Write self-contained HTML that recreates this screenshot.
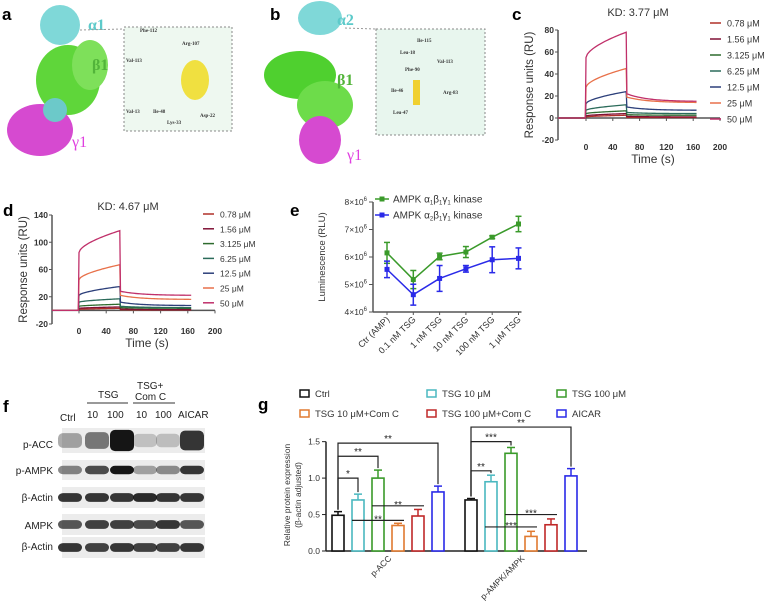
<!DOCTYPE html>
<html><head><meta charset="utf-8"><style>
body{margin:0;background:#fff;}
svg{display:block;font-family:"Liberation Sans",Arial,sans-serif;}
</style></head><body>
<svg id="fig" width="765" height="613" viewBox="0 0 765 613">
<g>
<text x="2" y="20" font-size="17" font-weight="bold">a</text>
<ellipse cx="60" cy="25" rx="20" ry="20" fill="#7fd8d8"/>
<ellipse cx="68" cy="80" rx="32" ry="35" fill="#5fd63a"/>
<ellipse cx="90" cy="65" rx="18" ry="25" fill="#7ee05a"/>
<ellipse cx="40" cy="130" rx="33" ry="26" fill="#d64ad0"/>
<ellipse cx="55" cy="110" rx="12" ry="12" fill="#6cc9c9"/>
<text x="88" y="30" font-size="16" font-weight="bold" fill="#5ccaca" font-family="Liberation Serif,serif">α1</text>
<text x="92" y="70" font-size="16" font-weight="bold" fill="#52b43a" font-family="Liberation Serif,serif">β1</text>
<text x="72" y="147" font-size="16" fill="#e040e0" font-family="Liberation Serif,serif">γ1</text>
<rect x="124" y="27" width="108" height="104" fill="#eef8f0" stroke="#888" stroke-dasharray="2,2"/>
<ellipse cx="195" cy="80" rx="14" ry="20" fill="#f0e040"/>
<g font-size="5" font-family="Liberation Serif,serif" font-weight="bold" fill="#333">
<text x="140" y="32">Phe-112</text><text x="182" y="45">Arg-107</text><text x="126" y="62">Val-113</text>
<text x="126" y="113">Val-13</text><text x="153" y="113">Ile-48</text><text x="167" y="124">Lys-33</text><text x="200" y="117">Asp-22</text></g>
<line x1="80" y1="30" x2="124" y2="29" stroke="#999" stroke-dasharray="2,2"/>
</g>
<g>
<text x="270" y="20" font-size="17" font-weight="bold">b</text>
<ellipse cx="320" cy="18" rx="22" ry="17" fill="#7fd8d8"/>
<ellipse cx="300" cy="75" rx="36" ry="24" fill="#4fd02f"/>
<ellipse cx="325" cy="105" rx="28" ry="24" fill="#6ddc4a"/>
<ellipse cx="320" cy="140" rx="21" ry="24" fill="#d64ad0"/>
<text x="337" y="25" font-size="16" font-weight="bold" fill="#5ccaca" font-family="Liberation Serif,serif">α2</text>
<text x="337" y="85" font-size="16" font-weight="bold" fill="#52b43a" font-family="Liberation Serif,serif">β1</text>
<text x="347" y="160" font-size="16" fill="#e040e0" font-family="Liberation Serif,serif">γ1</text>
<rect x="376" y="29" width="109" height="106" fill="#e8f6ee" stroke="#888" stroke-dasharray="2,2"/>
<rect x="413" y="80" width="7" height="25" fill="#f0d030"/>
<g font-size="5" font-family="Liberation Serif,serif" font-weight="bold" fill="#333">
<text x="417" y="42">Ile-115</text><text x="400" y="54">Leu-18</text><text x="437" y="63">Val-113</text>
<text x="405" y="71">Phe-90</text><text x="391" y="92">Ile-46</text><text x="443" y="94">Arg-83</text><text x="393" y="114">Leu-47</text></g>
<line x1="345" y1="28" x2="376" y2="29" stroke="#999" stroke-dasharray="2,2"/>
</g>
<g id="pc"><text x="512" y="20" font-size="17" font-weight="bold">c</text></g>
<g id="pd"><text x="3" y="216" font-size="17" font-weight="bold">d</text></g>
<g id="pe"><text x="290" y="216" font-size="17" font-weight="bold">e</text></g>
<g>
<text x="3" y="412" font-size="17" font-weight="bold">f</text>
<g font-size="10" fill="#222">
<text x="98" y="398">TSG</text><line x1="87" y1="403" x2="128" y2="403" stroke="#333"/>
<text x="137" y="389">TSG+</text><text x="135" y="400">Com C</text><line x1="133" y1="403" x2="175" y2="403" stroke="#333"/>
<text x="60" y="421">Ctrl</text><text x="87" y="418">10</text><text x="107" y="418">100</text>
<text x="136" y="418">10</text><text x="155" y="418">100</text><text x="178" y="418">AICAR</text>
<text x="53" y="448" text-anchor="end">p-ACC</text><text x="53" y="474" text-anchor="end">p-AMPK</text>
<text x="53" y="501" text-anchor="end">β-Actin</text><text x="53" y="529" text-anchor="end">AMPK</text>
<text x="53" y="550" text-anchor="end">β-Actin</text></g>
<g id="blot"></g>
</g>
<g id="pg"><text x="258" y="410" font-size="17" font-weight="bold">g</text></g>
</svg>
<script>
const NS="http://www.w3.org/2000/svg";
function mk(parent,tag,attrs,txt){const e=document.createElementNS(NS,tag);for(const k in attrs)e.setAttribute(k,attrs[k]);if(txt!==undefined)e.textContent=txt;parent.appendChild(e);return e;}

const concLabels=["0.78 μM","1.56 μM","3.125 μM","6.25 μM","12.5 μM","25 μM","50 μM"];
const concColors=["#b03028","#801035","#2e6b2e","#2b6b5a","#2c3f7a","#e8714a","#c0306a"];
const cJump=[1,2,4,7,13,28,55];
const cPeak=[2.5,4,6.5,12,24,45,78];
const cDrop=[0.5,1.5,3,5,10,19,22];
const cEnd=[0.5,1,2.5,4,7,14,15];
const dJump=[1.5,3,6,12,22,45,85];
const dPeak=[3,5,9,17,35,67,117];
const dDrop=[1,2,4,6,12,22,28];
const dEnd=[0.5,1,3,4,7,16,22];
const cYTicks=[-20,0,20,40,60,80];
const dYTicks=[-20,20,60,100,140];
const xTicks=[0,40,80,120,160,200];

function spr(g,o){
  const X=t=>o.x0+(t-0)*(o.x200-o.x0)/200;
  const Y=v=>o.yb+(v-o.vmin)*(o.yt-o.yb)/(o.vmax-o.vmin);
  mk(g,"line",{x1:o.ax,y1:Y(o.vmin),x2:o.ax,y2:Y(o.vmax),stroke:"#555","stroke-width":1.5});
  mk(g,"line",{x1:o.ax,y1:Y(0),x2:X(200),y2:Y(0),stroke:"#555","stroke-width":1.5});
  o.yt_.forEach(v=>{mk(g,"line",{x1:o.ax-3,y1:Y(v),x2:o.ax,y2:Y(v),stroke:"#555"});
    const t=mk(g,"text",{x:o.ax-4,y:Y(v)+3,"font-size":o.fs,"text-anchor":"end","font-weight":"bold",fill:"#333"},v);
    });
  xTicks.forEach(v=>{mk(g,"line",{x1:X(v),y1:Y(0),x2:X(v),y2:Y(0)+3,stroke:"#555"});
    const t=mk(g,"text",{x:X(v),y:Y(o.vmin)+10,"font-size":o.fs,"text-anchor":"middle","font-weight":"bold",fill:"#333"},v);
    });
  const xt=mk(g,"text",{x:X(100),y:Y(o.vmin)+23,"font-size":12,"text-anchor":"middle",fill:"#333"},"Time (s)");
  
  const cy=(Y(o.vmin)+Y(o.vmax))/2, cx=o.ax-25;
  const yt=mk(g,"text",{x:cx,y:cy,"font-size":11.5,"text-anchor":"middle",fill:"#333",transform:`rotate(-90 ${cx} ${cy})`},"Response units (RU)");
  
  const tt=mk(g,"text",{x:o.titleX,y:o.titleY,"font-size":11,"text-anchor":"middle",fill:"#333"},o.title);
  
  for(let i=0;i<7;i++){
    let d=`M${o.ax},${Y(0)} L${X(-1)},${Y(0)}`;
    for(let t=0;t<=60;t+=2){const v=o.J[i]+(o.P[i]-o.J[i])*Math.pow(t/60,0.6);d+=` L${X(t)},${Y(v)}`;}
    for(let t=61;t<=165;t+=2){const v=o.E[i]+(o.D[i]-o.E[i])*Math.exp(-(t-61)/30);d+=` L${X(t)},${Y(v)}`;}
    const p=mk(g,"path",{d:d,fill:"none",stroke:concColors[i],"stroke-width":1.3});
    
    mk(g,"line",{x1:o.lx,y1:o.ly+i*o.ld,x2:o.lx+11,y2:o.ly+i*o.ld,stroke:concColors[i],"stroke-width":1.5});
    const lt=mk(g,"text",{x:o.lx+17,y:o.ly+i*o.ld+3.5,"font-size":o.lfs,fill:"#333"},concLabels[i]);
    
  }
}
spr(document.getElementById("pc"),{ax:558,x0:586,x200:720,yb:140,yt:30,vmin:-20,vmax:80,yt_:cYTicks,fs:8.5,
  J:cJump,P:cPeak,D:cDrop,E:cEnd,title:"KD: 3.77 μM",titleX:638,titleY:16,lx:710,ly:23,ld:16,lfs:9});
spr(document.getElementById("pd"),{ax:52,x0:79,x200:215,yb:324,yt:215,vmin:-20,vmax:140,yt_:dYTicks,fs:8.5,
  J:dJump,P:dPeak,D:dDrop,E:dEnd,title:"KD: 4.67 μM",titleX:128,titleY:210,lx:203,ly:214,ld:14.8,lfs:8.5});

const eCats=["Ctr (AMP)","0.1 nM TSG","1 nM TSG","10 nM TSG","100 nM TSG","1 μM TSG"];
const eA1=[6.15,5.18,6.02,6.18,6.72,7.2];
const eA1err=[0.38,0.33,0.12,0.2,0.05,0.28];
const eA2=[5.55,4.63,5.22,5.57,5.9,5.95];
const eA2err=[0.3,0.38,0.47,0.12,0.47,0.38];
const eTicks=[4,5,6,7,8];
(function(){
  const g=document.getElementById("pe");
  const X=i=>387+i*26.3, Y=v=>312-(v-4)*27.5;
  mk(g,"line",{x1:373,y1:Y(4),x2:373,y2:Y(8),stroke:"#555","stroke-width":1.5});
  mk(g,"line",{x1:373,y1:Y(4),x2:X(5)+3,y2:Y(4),stroke:"#555","stroke-width":1.5});
  eTicks.forEach(v=>{mk(g,"line",{x1:369,y1:Y(v),x2:373,y2:Y(v),stroke:"#555"});
    const t=mk(g,"text",{x:367,y:Y(v)+3,"font-size":8.5,"text-anchor":"end",fill:"#333"});
    t.innerHTML=v+"×10<tspan dy='-4' font-size='6'>6</tspan>";
    });
  eCats.forEach((c,i)=>{mk(g,"line",{x1:X(i),y1:Y(4),x2:X(i),y2:Y(4)+3,stroke:"#555"});
    const t=mk(g,"text",{x:X(i)+3,y:Y(4)+8,"font-size":9,"text-anchor":"end",fill:"#333",transform:`rotate(-45 ${X(i)+3} ${Y(4)+8})`},c);
    });
  const yt=mk(g,"text",{x:325,y:257,"font-size":9.5,"text-anchor":"middle",fill:"#333",transform:"rotate(-90 325 257)"},"Luminescence (RLU)");
  
  [[eA1,eA1err,"#3a9a2a","a1"],[eA2,eA2err,"#2a2ae8","a2"]].forEach(([vals,errs,col,nm])=>{
    let d="";vals.forEach((v,i)=>{d+=(i?" L":"M")+X(i)+","+Y(v);});
    const p=mk(g,"path",{d:d,fill:"none",stroke:col,"stroke-width":1.5});
    
    vals.forEach((v,i)=>{
      mk(g,"line",{x1:X(i),y1:Y(v-errs[i]),x2:X(i),y2:Y(v+errs[i]),stroke:col,"stroke-width":1.5});
      mk(g,"line",{x1:X(i)-3,y1:Y(v-errs[i]),x2:X(i)+3,y2:Y(v-errs[i]),stroke:col,"stroke-width":1.5});
      mk(g,"line",{x1:X(i)-3,y1:Y(v+errs[i]),x2:X(i)+3,y2:Y(v+errs[i]),stroke:col,"stroke-width":1.5});
      const r=mk(g,"rect",{x:X(i)-2.5,y:Y(v)-2.5,width:5,height:5,fill:col});
      
    });
  });
  [["#3a9a2a","AMPK α","1","β","1","γ","1"," kinase",199],["#2a2ae8","AMPK α","2","β","1","γ","1"," kinase",215]].forEach(r=>{
    mk(g,"line",{x1:375,y1:r[8],x2:389,y2:r[8],stroke:r[0],"stroke-width":1.5});
    mk(g,"rect",{x:379.5,y:r[8]-2.5,width:5,height:5,fill:r[0]});
    const t=mk(g,"text",{x:393,y:r[8]+3.5,"font-size":10,fill:"#333"});
    t.innerHTML=`${r[1]}<tspan dy="2" font-size="6">${r[2]}</tspan><tspan dy="-2">${r[3]}</tspan><tspan dy="2" font-size="6">${r[4]}</tspan><tspan dy="-2">${r[5]}</tspan><tspan dy="2" font-size="6">${r[6]}</tspan><tspan dy="-2">${r[7]}</tspan>`;
    
  });
})();

const blotRows=[[0.35,0.55,1,0.2,0.22,0.85],[0.5,0.75,1,0.35,0.45,0.85],[0.85,0.85,0.85,0.9,0.85,0.85],[0.7,0.8,0.8,0.75,0.85,0.7],[0.85,0.8,0.85,0.8,0.8,0.85]];
(function(){
  const g=document.getElementById("blot");
  const rowY=[428,460,487,514,537], rowH=[25,20,21,21,21];
  const lanes=[70,97,122,145,168,192];
  blotRows.forEach((row,r)=>{
    const b=mk(g,"rect",{x:62,y:rowY[r],width:143,height:rowH[r],fill:"#ececec"});
    
    row.forEach((v,i)=>{
      const h=rowH[r]*(r===0?0.45+0.4*v:0.42);
      const e=mk(g,"rect",{x:lanes[i]-12,y:rowY[r]+rowH[r]/2-h/2,width:24,height:h,rx:5,fill:"#151515","fill-opacity":v});
      
    });
  });
})();

const gGroups=["p-ACC","p-AMPK/AMPK"];
const gSeries=["Ctrl","TSG 10 μM","TSG 100 μM","TSG 10 μM+Com C","TSG 100 μM+Com C","AICAR"];
const gColors=["#111","#4ab8c0","#3a9a2a","#e07a30","#c02828","#2a2ae8"];
const gVals=[[0.49,0.70,1.0,0.35,0.48,0.81],[0.70,0.95,1.34,0.20,0.36,1.03]];
const gErr=[[0.05,0.08,0.11,0.03,0.09,0.08],[0.02,0.09,0.08,0.07,0.08,0.10]];
const gTicks=[0,0.5,1.0,1.5];
(function(){
  const g=document.getElementById("pg");
  const Y=v=>551-v*72.9;
  const X=(gi,si)=>338+gi*133+si*20;
  mk(g,"line",{x1:326,y1:Y(0),x2:326,y2:Y(1.5),stroke:"#222","stroke-width":1.5});
  mk(g,"line",{x1:326,y1:Y(0),x2:587,y2:Y(0),stroke:"#222","stroke-width":1.5});
  gTicks.forEach(v=>{mk(g,"line",{x1:322,y1:Y(v),x2:326,y2:Y(v),stroke:"#222"});
    const t=mk(g,"text",{x:320,y:Y(v)+3,"font-size":8.5,"text-anchor":"end",fill:"#333"},v.toFixed(1));
    });
  const yt=mk(g,"text",{x:290,y:495,"font-size":8.5,"text-anchor":"middle",fill:"#333",transform:"rotate(-90 290 495)"},"Relative protein expression");
  
  mk(g,"text",{x:301,y:495,"font-size":8.5,"text-anchor":"middle",fill:"#333",transform:"rotate(-90 301 495)"},"(β-actin adjusted)");
  gGroups.forEach((gn,gi)=>{
    const cx=X(gi,2.5)+4,cy=Y(0)+8;
    const t=mk(g,"text",{x:cx,y:cy,"font-size":8.5,"text-anchor":"end",fill:"#333",transform:`rotate(-45 ${cx} ${cy})`},gn);
    
    gVals[gi].forEach((v,si)=>{
      const x=X(gi,si),c=gColors[si],e=gErr[gi][si];
      mk(g,"line",{x1:x,y1:Y(v),x2:x,y2:Y(v+e),stroke:c,"stroke-width":1.5});
      mk(g,"line",{x1:x-4,y1:Y(v+e),x2:x+4,y2:Y(v+e),stroke:c,"stroke-width":1.5});
      const r=mk(g,"rect",{x:x-6,y:Y(v),width:12,height:Y(0)-Y(v),fill:"#fff",stroke:c,"stroke-width":1.6});
      
    });
  });
  const sig=[[0,0,1,1.0,"*"],[0,0,2,1.3,"**"],[0,0,5,1.48,"**"],[1,0,1,1.1,"**"],[1,0,2,1.5,"***"],[1,0,5,1.7,"**"]];
  sig.forEach(s=>{const x1=X(s[0],s[1]),x2=X(s[0],s[2]),y=Y(s[3]);
    mk(g,"path",{d:`M${x1},${Y(gVals[s[0]][s[1]]+gErr[s[0]][s[1]])-2} L${x1},${y} L${x2},${y} L${x2},${Y(gVals[s[0]][s[2]]+gErr[s[0]][s[2]])-2}`,fill:"none",stroke:"#222","stroke-width":1.2});
    mk(g,"text",{x:(x1+x2)/2,y:y-1,"font-size":10,"text-anchor":"middle",fill:"#222"},s[4]);});
  const hl=[[0,1,3,0.42,"**"],[0,2,4,0.62,"**"],[1,1,3,0.33,"***"],[1,2,4,0.5,"***"]];
  hl.forEach(s=>{const x1=X(s[0],s[1])-6,x2=X(s[0],s[2])+6,y=Y(s[3]);
    mk(g,"line",{x1:x1,y1:y,x2:x2,y2:y,stroke:"#222","stroke-width":1.2});
    mk(g,"text",{x:(x1+x2)/2,y:y+2,"font-size":10,"text-anchor":"middle",fill:"#222"},s[4]);});
  const lpos=[[300,395],[427,395],[557,395],[300,415],[427,415],[557,415]];
  gSeries.forEach((s,i)=>{
    mk(g,"rect",{x:lpos[i][0],y:lpos[i][1]-5,width:9,height:7,fill:"#fff",stroke:gColors[i],"stroke-width":1.5});
    const t=mk(g,"text",{x:lpos[i][0]+15,y:lpos[i][1]+2,"font-size":9.5,fill:"#333"},s);
    
  });
})();
</script>
</body></html>
